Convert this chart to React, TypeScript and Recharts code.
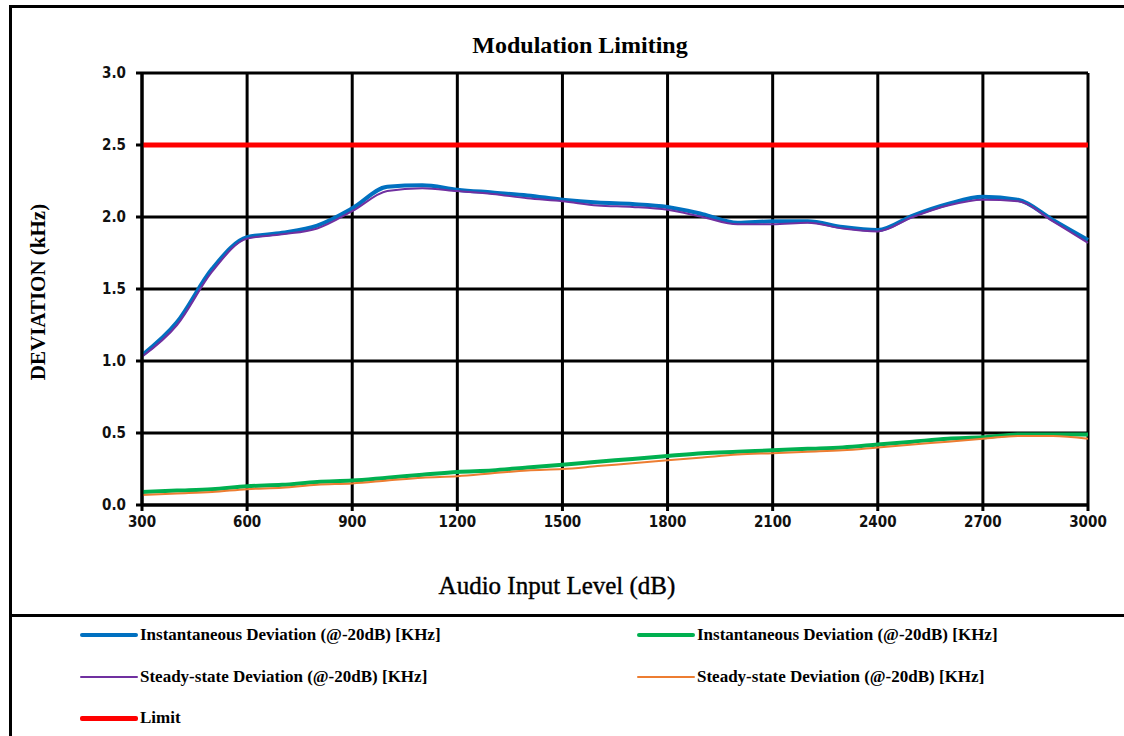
import { CartesianGrid, Line, LineChart, XAxis, YAxis } from "recharts";

// audio input level, one point every 100
const levels = [
	300, 400, 500, 600, 700, 800, 900, 1000, 1100, 1200, 1300, 1400, 1500, 1600,
	1700, 1800, 1900, 2000, 2100, 2200, 2300, 2400, 2500, 2600, 2700, 2800, 2900, 3000,
];

const instHigh = [
	1.04, 1.27, 1.64, 1.86, 1.89, 1.94, 2.06, 2.21, 2.22, 2.19, 2.17, 2.15, 2.12, 2.1,
	2.09, 2.07, 2.02, 1.96, 1.97, 1.97, 1.93, 1.91, 2.01, 2.09, 2.14, 2.12, 1.98, 1.84,
];
const steadyHigh = [
	1.03, 1.25, 1.62, 1.85, 1.88, 1.92, 2.04, 2.18, 2.2, 2.18, 2.16, 2.13, 2.11, 2.08,
	2.07, 2.05, 2.0, 1.95, 1.95, 1.96, 1.92, 1.9, 2.0, 2.08, 2.12, 2.11, 1.97, 1.82,
];
const instLow = [
	0.09, 0.1, 0.11, 0.13, 0.14, 0.16, 0.17, 0.19, 0.21, 0.23, 0.24, 0.26, 0.28, 0.3,
	0.32, 0.34, 0.36, 0.37, 0.38, 0.39, 0.4, 0.42, 0.44, 0.46, 0.47, 0.49, 0.49, 0.49,
];
const steadyLow = [
	0.07, 0.08, 0.09, 0.11, 0.12, 0.14, 0.15, 0.17, 0.19, 0.2, 0.22, 0.24, 0.25, 0.27,
	0.29, 0.31, 0.33, 0.35, 0.36, 0.37, 0.38, 0.4, 0.42, 0.44, 0.46, 0.48, 0.48, 0.46,
];
const limitValue = 2.5;

const xTicks = [300, 600, 900, 1200, 1500, 1800, 2100, 2400, 2700, 3000];
const yTicks = [0, 0.5, 1, 1.5, 2, 2.5, 3];

const series = [
	{ key: "instHigh", name: "Instantaneous Deviation (@-20dB) [KHz]", color: "#0070C0", width: 4 },
	{ key: "instLow", name: "Instantaneous Deviation (@-20dB) [KHz]", color: "#00B050", width: 4 },
	{ key: "steadyHigh", name: "Steady-state Deviation (@-20dB) [KHz]", color: "#7030A0", width: 2 },
	{ key: "steadyLow", name: "Steady-state Deviation (@-20dB) [KHz]", color: "#ED7D31", width: 2 },
	{ key: "limit", name: "Limit", color: "#FF0000", width: 5 },
];

const data = levels.map((level, i) => ({
	level,
	instHigh: instHigh[i],
	steadyHigh: steadyHigh[i],
	instLow: instLow[i],
	steadyLow: steadyLow[i],
	limit: limitValue,
}));

const tickStyle = {
	fontFamily: "'DejaVu Sans Condensed', 'DejaVu Sans', sans-serif",
	fontWeight: "bold",
	fontSize: 15,
	fill: "#111",
};

const serif = "'Liberation Serif', 'DejaVu Serif', serif";

// legend slots: [left, top] of each entry
const legendSlots = [
	[80, 625],
	[637, 625],
	[80, 667],
	[637, 667],
	[80, 708],
];

export default function App() {
	return (
		<div style={{ position: "absolute", left: 0, top: 0, width: 1124, height: 736, background: "#fff", overflow: "hidden" }}>
			{/* outer frame and legend divider */}
			<div style={{ position: "absolute", left: 9, top: 5, width: 1130, height: 740, border: "3px solid #000" }} />
			<div style={{ position: "absolute", left: 9, top: 614, width: 1130, height: 3, background: "#000" }} />

			<div
				style={{
					position: "absolute",
					left: 380,
					width: 400,
					top: 32,
					textAlign: "center",
					fontFamily: serif,
					fontWeight: "bold",
					fontSize: 24,
				}}
			>
				Modulation Limiting
			</div>

			<div
				style={{
					position: "absolute",
					left: 38,
					top: 292,
					transform: "translate(-50%, -50%) rotate(-90deg)",
					whiteSpace: "nowrap",
					fontFamily: serif,
					fontWeight: "bold",
					fontSize: 21,
				}}
			>
				DEVIATION (kHz)
			</div>

			<div
				style={{
					position: "absolute",
					left: 357,
					width: 400,
					top: 572,
					textAlign: "center",
					fontFamily: serif,
					fontSize: 25,
					WebkitTextStroke: "0.4px #000",
				}}
			>
				Audio Input Level (dB)
			</div>

			<div style={{ position: "absolute", left: 0, top: 0 }}>
				<LineChart width={1124} height={615} data={data} margin={{ top: 73, right: 36, bottom: 80, left: 82 }}>
					<CartesianGrid stroke="#000" strokeWidth={3} />
					<XAxis
						dataKey="level"
						type="number"
						domain={[300, 3000]}
						ticks={xTicks}
						height={30}
						tick={tickStyle}
						tickSize={6}
						tickMargin={5}
						axisLine={{ stroke: "#000", strokeWidth: 3 }}
						tickLine={{ stroke: "#000", strokeWidth: 3 }}
					/>
					<YAxis
						type="number"
						domain={[0, 3]}
						ticks={yTicks}
						width={60}
						tick={tickStyle}
						tickFormatter={(v: number) => v.toFixed(1)}
						tickSize={6}
						tickMargin={10}
						axisLine={{ stroke: "#000", strokeWidth: 3 }}
						tickLine={{ stroke: "#000", strokeWidth: 3 }}
					/>
					{series.map((s) => (
						<Line
							key={s.key}
							type="monotone"
							dataKey={s.key}
							name={s.name}
							stroke={s.color}
							strokeWidth={s.width}
							dot={false}
							activeDot={false}
							isAnimationActive={false}
						/>
					))}
				</LineChart>
			</div>

			{series.map((s, i) => (
				<div
					key={s.key}
					style={{
						position: "absolute",
						left: legendSlots[i][0],
						top: legendSlots[i][1],
						display: "flex",
						alignItems: "center",
						height: 20,
					}}
				>
					<div style={{ width: 58, height: s.width, background: s.color, borderRadius: 2 }} />
					<span style={{ fontFamily: serif, fontWeight: "bold", fontSize: 17, marginLeft: 2, whiteSpace: "nowrap" }}>
						{s.name}
					</span>
				</div>
			))}
		</div>
	);
}
